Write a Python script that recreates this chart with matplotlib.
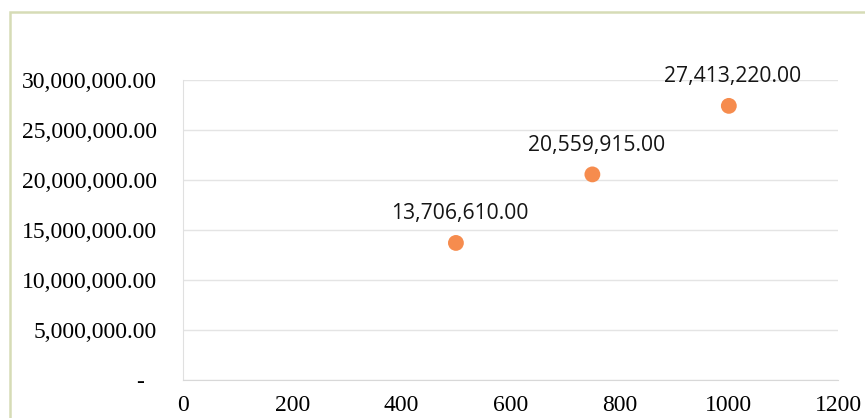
import matplotlib
matplotlib.use("Agg")
import matplotlib.pyplot as plt
from matplotlib.patches import Rectangle
from matplotlib.ticker import FuncFormatter

# Data
x_values = [500, 750, 1000]
y_values = [13706610.00, 20559915.00, 27413220.00]
x_ticks = [0, 200, 400, 600, 800, 1000, 1200]
y_ticks = [0, 5000000, 10000000, 15000000, 20000000, 25000000, 30000000]

W, H = 865, 418
fig = plt.figure(figsize=(W / 100, H / 100), dpi=100)
fig.patch.set_facecolor("white")

# Chart frame
frame = Rectangle((10 / W, -0.1), 1.2, 1 - 12 / H + 0.1,
                  transform=fig.transFigure, fill=False,
                  edgecolor="#d6dcb6", linewidth=1.8)
fig.add_artist(frame)

ax = fig.add_axes([183 / W, 1 - 380 / H, (838 - 183) / W, 300 / H])
ax.set_xlim(0, 1200)
ax.set_ylim(0, 30000000)
ax.set_xticks(x_ticks)
ax.set_yticks(y_ticks)

def yfmt(v, pos):
    if v == 0:
        return "-  "
    return f"{v:,.2f}"

ax.yaxis.set_major_formatter(FuncFormatter(yfmt))
ax.xaxis.set_major_formatter(FuncFormatter(lambda v, p: f"{int(v)}"))

ax.grid(axis="y", color="#e4e4e4", linewidth=1.0)
ax.set_axisbelow(True)
for side in ("top", "right"):
    ax.spines[side].set_visible(False)
ax.spines["left"].set_color("#e0e0e0")
ax.spines["bottom"].set_color("#d8d8d8")
ax.tick_params(axis="both", length=0)
ax.tick_params(axis="y", pad=19)
ax.tick_params(axis="x", pad=11)
for lbl in ax.get_xticklabels() + ax.get_yticklabels():
    lbl.set_fontfamily("Liberation Serif")
    lbl.set_fontsize(17)
    lbl.set_color("#000000")

ax.scatter(x_values, y_values, s=130, color="#f68c4e", zorder=3,
           edgecolors="none")

for xv, yv in zip(x_values, y_values):
    ax.annotate(f"{yv:,.2f}", (xv, yv), xytext=(3, 21),
                textcoords="offset points", ha="center", va="center",
                fontfamily="Open Sans", fontsize=15.2, color="#151515")

fig.savefig("out.png", dpi=100, facecolor="white")
